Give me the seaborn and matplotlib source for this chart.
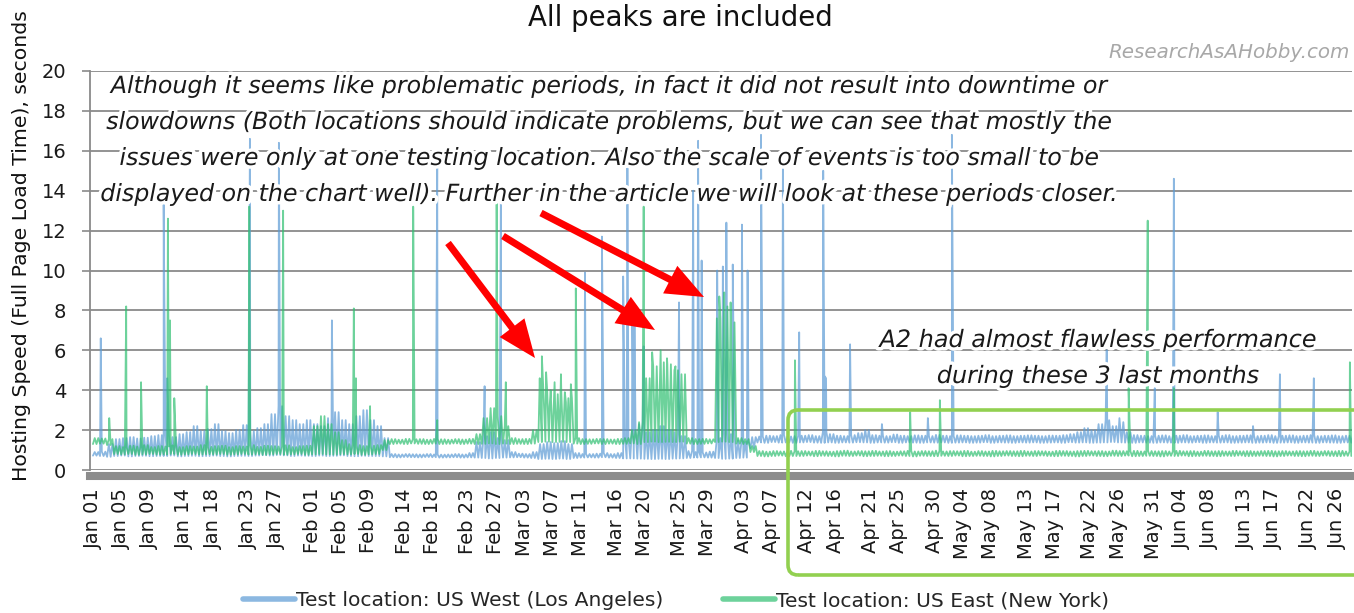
import pandas as pd
import matplotlib
matplotlib.use("Agg")
import matplotlib.pyplot as plt
import matplotlib.patheffects as pe
from matplotlib.patches import FancyArrow, FancyBboxPatch
from matplotlib.lines import Line2D
import seaborn as sns

sns.set_theme(style="white")
plt.rcParams["font.family"] = ["DejaVu Sans"]

W, H = 1354, 613
start = pd.Timestamp("2019-01-01")

tick_labels = [
  "Jan 01", "Jan 05", "Jan 09", "Jan 14", "Jan 18", "Jan 23", "Jan 27",
  "Feb 01", "Feb 05", "Feb 09", "Feb 14", "Feb 18", "Feb 23", "Feb 27",
  "Mar 03", "Mar 07", "Mar 11", "Mar 16", "Mar 20", "Mar 25", "Mar 29",
  "Apr 03", "Apr 07", "Apr 12", "Apr 16", "Apr 21", "Apr 25", "Apr 30",
  "May 04", "May 08", "May 13", "May 17", "May 22", "May 26", "May 31",
  "Jun 04", "Jun 08", "Jun 13", "Jun 17", "Jun 22", "Jun 26",
]

series_names = ["Test location: US West (Los Angeles)", "Test location: US East (New York)"]
series_colors = ["#5b9bd5", "#2fbf71"]

# daily low / high level of each series (day 0 = Jan 01)
west_lo = [
  0.72, 0.70, 0.66, 0.70, 0.72, 0.68, 0.70, 0.71, 0.69, 0.70,
  0.70, 0.72, 0.68, 0.70, 0.71, 0.69, 0.70, 0.72, 0.70, 0.68,
  0.70, 0.71, 0.70, 0.72, 0.74, 0.72, 0.75, 0.73, 0.70, 0.72,
  0.71, 0.70, 0.72, 0.70, 0.71, 0.73, 0.70, 0.69, 0.71, 0.70,
  0.70, 0.68, 0.64, 0.63, 0.65, 0.64, 0.63, 0.65, 0.64, 0.62,
  0.63, 0.64, 0.62, 0.63, 0.62, 0.60, 0.58, 0.60, 0.62, 0.63,
  0.64, 0.62, 0.60, 0.55, 0.56, 0.55, 0.57, 0.55, 0.60, 0.62,
  0.63, 0.62, 0.64, 0.62, 0.60, 0.58, 0.58, 0.57, 0.56, 0.55,
  0.56, 0.55, 0.57, 0.58, 0.60, 0.62, 0.63, 0.62, 0.60, 0.56,
  0.57, 0.60, 0.62, 1.10, 1.38, 1.36, 1.40, 1.37, 1.38, 1.36,
  1.38, 1.40, 1.37, 1.36, 1.38, 1.36, 1.38, 1.37, 1.39, 1.38,
  1.36, 1.38, 1.37, 1.39, 1.36, 1.38, 1.37, 1.36, 1.38, 1.37,
  1.38, 1.36, 1.37, 1.38, 1.36, 1.37, 1.39, 1.36, 1.38, 1.37,
  1.36, 1.38, 1.37, 1.38, 1.36, 1.37, 1.38, 1.36, 1.39, 1.37,
  1.38, 1.36, 1.37, 1.38, 1.40, 1.38, 1.37, 1.36, 1.38, 1.37,
  1.36, 1.38, 1.37, 1.36, 1.38, 1.37, 1.39, 1.36, 1.38, 1.37,
  1.38, 1.36, 1.37, 1.38, 1.36, 1.37, 1.38, 1.36, 1.37, 1.38,
  1.36, 1.38, 1.37, 1.36, 1.38, 1.37, 1.36, 1.38, 1.37,
]
west_hi = [
  0.90, 0.92, 1.30, 1.55, 1.60, 1.65, 1.58, 1.62, 1.70, 1.75,
  1.75, 1.65, 1.80, 1.90, 2.20, 1.95, 2.05, 2.30, 1.95, 1.85,
  2.00, 2.25, 1.95, 2.10, 2.30, 2.80, 3.20, 2.70, 2.50, 2.30,
  2.50, 2.30, 2.20, 2.60, 2.90, 2.50, 2.30, 2.70, 3.00, 2.50,
  2.20, 1.60, 0.80, 0.78, 0.80, 0.79, 0.78, 0.80, 0.78, 0.77,
  0.78, 0.80, 0.78, 0.85, 1.40, 1.70, 1.90, 1.60, 1.50, 0.90,
  0.82, 0.80, 0.90, 1.30, 1.40, 1.35, 1.45, 1.30, 0.85, 0.80,
  0.80, 0.82, 0.85, 0.80, 0.85, 1.60, 2.10, 2.30, 1.90, 2.00,
  2.20, 2.00, 1.90, 1.70, 0.95, 0.90, 0.88, 0.92, 1.60, 1.90,
  1.80, 1.50, 1.40, 1.65, 1.68, 1.72, 1.70, 1.75, 1.68, 1.70,
  1.72, 1.75, 1.70, 1.90, 1.80, 1.72, 1.70, 1.75, 1.85, 2.00,
  1.75, 1.72, 1.70, 1.78, 1.72, 1.70, 1.74, 1.72, 1.70, 1.76,
  1.72, 1.70, 1.74, 1.72, 1.70, 1.72, 1.75, 1.70, 1.72, 1.74,
  1.70, 1.72, 1.74, 1.72, 1.70, 1.73, 1.72, 1.75, 1.80, 1.90,
  2.10, 2.00, 2.30, 2.50, 2.20, 2.40, 1.90, 1.75, 1.72, 1.70,
  1.72, 1.74, 1.70, 1.72, 1.75, 1.70, 1.72, 1.74, 1.70, 1.72,
  1.75, 1.70, 1.72, 1.74, 1.70, 1.72, 1.75, 1.70, 1.72, 1.74,
  1.70, 1.72, 1.75, 1.70, 1.72, 1.74, 1.70, 1.72, 1.75,
]
east_lo = [
  1.30, 1.32, 1.25, 0.80, 0.78, 0.80, 0.76, 0.78, 0.80, 0.77,
  0.78, 0.80, 0.76, 0.78, 0.80, 0.77, 0.79, 0.78, 0.80, 0.76,
  0.78, 0.80, 0.77, 0.79, 0.76, 0.78, 0.80, 0.77, 0.78, 0.80,
  0.76, 0.78, 0.80, 0.78, 0.77, 0.79, 0.78, 0.80, 0.76, 0.78,
  0.80, 1.00, 1.30, 1.32, 1.30, 1.33, 1.31, 1.30, 1.32, 1.30,
  1.31, 1.33, 1.30, 1.32, 1.30, 1.31, 1.33, 1.30, 1.32, 1.30,
  1.31, 1.30, 1.32, 1.40, 1.42, 1.40, 1.41, 1.40, 1.32, 1.30,
  1.31, 1.33, 1.30, 1.32, 1.30, 1.31, 1.33, 1.30, 1.40, 1.42,
  1.40, 1.41, 1.40, 1.42, 1.32, 1.30, 1.31, 1.33, 1.40, 1.42,
  1.40, 1.32, 1.30, 0.90, 0.70, 0.68, 0.70, 0.72, 0.69, 0.70,
  0.70, 0.72, 0.69, 0.71, 0.70, 0.68, 0.71, 0.70, 0.72, 0.69,
  0.70, 0.71, 0.69, 0.70, 0.72, 0.70, 0.68, 0.71, 0.70, 0.69,
  0.71, 0.70, 0.72, 0.69, 0.70, 0.71, 0.70, 0.68, 0.70, 0.72,
  0.70, 0.69, 0.71, 0.70, 0.72, 0.70, 0.69, 0.71, 0.70, 0.68,
  0.70, 0.72, 0.70, 0.69, 0.71, 0.70, 0.72, 0.69, 0.70, 0.71,
  0.70, 0.68, 0.71, 0.70, 0.72, 0.69, 0.70, 0.71, 0.70, 0.69,
  0.71, 0.70, 0.72, 0.69, 0.70, 0.71, 0.70, 0.68, 0.70, 0.72,
  0.70, 0.69, 0.71, 0.70, 0.72, 0.70, 0.69, 0.71, 0.70,
]
east_hi = [
  1.60, 1.58, 1.55, 1.20, 1.15, 1.22, 1.18, 1.25, 1.15, 1.20,
  1.18, 1.24, 1.15, 1.20, 1.18, 1.25, 1.16, 1.20, 1.22, 1.15,
  1.20, 1.18, 1.25, 1.16, 1.22, 1.20, 1.18, 1.24, 1.15, 1.20,
  1.22, 2.20, 2.70, 2.30, 1.90, 1.50, 1.30, 1.25, 1.20, 1.22,
  1.25, 1.50, 1.55, 1.52, 1.56, 1.54, 1.55, 1.52, 1.56, 1.54,
  1.52, 1.55, 1.53, 1.56, 1.80, 2.60, 3.10, 2.70, 2.20, 1.60,
  1.55, 1.56, 2.00, 3.70, 4.00, 3.80, 3.90, 3.60, 1.60, 1.55,
  1.54, 1.56, 1.55, 1.53, 1.56, 1.60, 2.00, 2.40, 4.60, 5.20,
  5.40, 5.30, 5.00, 4.80, 1.60, 1.55, 1.56, 1.54, 7.60, 8.20,
  7.40, 1.60, 1.55, 1.20, 0.95, 0.92, 0.95, 0.93, 0.96, 0.94,
  0.95, 0.93, 0.96, 0.94, 0.92, 0.95, 0.97, 0.93, 0.95, 0.94,
  0.96, 0.93, 0.95, 0.92, 0.94, 0.96, 0.93, 0.95, 0.94, 0.97,
  0.93, 0.95, 0.94, 0.96, 0.92, 0.95, 0.93, 0.96, 0.94, 0.95,
  0.94, 0.96, 0.93, 0.95, 0.94, 0.92, 0.96, 0.95, 0.93, 0.95,
  0.96, 0.94, 0.95, 0.93, 0.97, 0.95, 0.94, 0.96, 0.93, 0.95,
  0.94, 0.95, 0.93, 0.96, 0.94, 0.95, 0.92, 0.96, 0.94, 0.95,
  0.93, 0.96, 0.94, 0.95, 0.93, 0.95, 0.96, 0.94, 0.95, 0.93,
  0.95, 0.94, 0.96, 0.93, 0.95, 0.94, 0.96, 0.93, 0.95,
]

# single peaks (day offset from Jan 01, seconds)
west_spike_day = [1.1, 10.0, 10.5, 22.2, 26.3, 33.8, 48.7, 55.4, 57.7, 69.6,
                  72.0, 75.0, 75.6, 76.3, 76.6, 77.9, 82.9, 84.9, 85.6, 86.1,
                  88.3, 89.1, 89.6, 90.5, 91.8, 92.6, 94.5, 97.6, 99.9, 103.3,
                  103.5, 103.7, 107.1, 111.6, 118.1, 121.5, 143.4, 145.2, 150.2, 152.9,
                  159.1, 164.1, 167.9, 172.7]
west_spike_val = [6.6, 13.3, 4.6, 16.6, 16.4, 7.5, 15.5, 4.2, 13.5, 9.9,
                  11.7, 9.7, 16.0, 7.8, 7.6, 6.2, 8.4, 14.0, 16.5, 10.5,
                  10.0, 10.2, 12.4, 10.3, 12.3, 10.0, 16.8, 16.0, 6.9, 15.0,
                  4.7, 4.6, 6.3, 2.3, 2.6, 16.8, 6.0, 2.6, 4.1, 14.6,
                  2.9, 2.2, 4.8, 4.6]
east_spike_day = [2.3, 4.7, 6.8, 10.6, 10.9, 11.5, 16.1, 22.1, 26.9, 36.9,
                  37.2, 39.2, 45.3, 48.7, 57.1, 58.4, 63.2, 63.5, 64.1, 64.6,
                  65.3, 66.2, 66.9, 67.6, 68.3, 77.9, 79.1, 80.3, 81.2, 82.4,
                  83.2, 88.6, 89.3, 90.2, 99.3, 115.6, 119.8, 146.5, 149.2, 152.9,
                  177.8]
east_spike_val = [2.6, 8.2, 4.4, 12.6, 7.5, 3.6, 4.2, 13.2, 13.0, 8.1,
                  4.6, 3.2, 13.2, 2.5, 14.0, 4.4, 4.6, 5.7, 4.9, 3.2,
                  4.4, 4.8, 3.4, 4.3, 9.1, 13.2, 5.9, 6.0, 5.6, 5.2,
                  4.3, 8.7, 8.9, 8.4, 5.5, 2.9, 3.5, 4.1, 12.5, 4.1,
                  5.4]


def build_series(name, lo, hi, spike_day, spike_val):
  days, vals = [], []
  for d, (a, b) in enumerate(zip(lo, hi)):
    days += [d, d + 0.25, d + 0.5, d + 0.75]
    vals += [a, b, a, b]
  days += spike_day
  vals += spike_val
  df = pd.DataFrame({"day": days, "value": vals}).sort_values("day")
  df["time"] = start + pd.to_timedelta(df["day"], unit="D")
  df["series"] = name
  return df


df = pd.concat([
  build_series(series_names[0], west_lo, west_hi, west_spike_day, west_spike_val),
  build_series(series_names[1], east_lo, east_hi, east_spike_day, east_spike_val),
])

fig = plt.figure(figsize=(W / 100, H / 100), dpi=100)
ax = fig.add_axes([90 / W, 1 - 470 / H, (1352 - 90) / W, (470 - 71) / H])

sns.lineplot(data=df, x="time", y="value", hue="series", hue_order=series_names,
             palette=series_colors, estimator=None, linewidth=1.3, alpha=0.7,
             legend=False, ax=ax)

grid_c = "#8a8a8a"
ax.set_ylim(0, 20)
ax.set_yticks(range(0, 21, 2))
ax.set_xlim(start - pd.Timedelta(days=0.42), start + pd.Timedelta(days=178.1))
tick_pos = pd.to_datetime([f"{s} 2019" for s in tick_labels], format="%b %d %Y")
ax.set_xticks(tick_pos)
ax.set_xticklabels(tick_labels)
ax.set_xlabel("")
ax.set_ylabel("")
ax.yaxis.grid(True, color=grid_c, linewidth=1.3)
ax.xaxis.grid(False)
for s in ["top", "right"]:
  ax.spines[s].set_visible(False)
ax.spines["left"].set_color(grid_c)
ax.spines["left"].set_linewidth(1.3)
ax.spines["bottom"].set_color("#8c8c8c")
ax.spines["bottom"].set_linewidth(5.8)
ax.spines["bottom"].set_position(("outward", 4))
ax.tick_params(axis="y", labelsize=14, length=6, width=1.2, color=grid_c, pad=11, left=True,
               labelcolor="#1a1a1a")
ax.tick_params(axis="x", labelsize=14, length=0, pad=9, labelcolor="#1a1a1a",
               labelrotation=90)
for lab in ax.get_xticklabels():
  lab.set_va("top")
  lab.set_ha("center")


def put(x, y, s, **kw):
  return fig.text(x / 100, (H - y) / 100, s, transform=fig.dpi_scale_trans, **kw)


halo = [pe.withStroke(linewidth=5, foreground="white")]

title = put(680, 18, "All peaks are included", ha="center", va="center", fontsize=16, color="#111111")
mark = put(1350, 52, "ResearchAsAHobby.com", ha="right", va="center", fontsize=12,
           style="italic", color="#a8a8a8")
ylab = put(22, 246, "Hosting Speed (Full Page Load Time), seconds", rotation=90,
           ha="center", va="center", fontsize=12, color="#111111")

note_lines = [
  "Although it seems like problematic periods, in fact it did not result into downtime or",
  "slowdowns (Both locations should indicate problems, but we can see that mostly the",
  "issues were only at one testing location. Also the scale of events is too small to be",
  "displayed on the chart well). Further in the article we will look at these periods closer.",
]
note_y = [86, 122, 158, 194]
notes = [put(608, y, s, ha="center", va="center", fontsize=16, style="italic",
             color="#1a1a1a", path_effects=halo, zorder=5)
         for s, y in zip(note_lines, note_y)]

a2_lines = ["A2 had almost flawless performance", "during these 3 last months"]
a2 = [put(1098, y, s, ha="center", va="center", fontsize=16, style="italic",
          color="#1a1a1a", path_effects=halo, zorder=5)
      for s, y in zip(a2_lines, [340, 376])]

handles = [Line2D([], [], color=c, lw=4, alpha=0.7) for c in series_colors]
fig.legend(handles, series_names, loc="center", bbox_to_anchor=(676 / W, 1 - 601 / H),
           ncol=2, frameon=False, fontsize=14.6, handlelength=2.6, handletextpad=0.05,
           columnspacing=2.9)

fig.canvas.draw()
renderer = fig.canvas.get_renderer()


def fit(t, px, vertical=False):
  bb = t.get_window_extent(renderer)
  cur = bb.height if vertical else bb.width
  t.set_fontsize(t.get_fontsize() * px / cur)


fit(title, 306)
fit(mark, 240)
fit(ylab, 468, vertical=True)
fit(notes[3], 1020)
for t in notes[:3]:
  t.set_fontsize(notes[3].get_fontsize())
fit(a2[0], 438)
a2[1].set_fontsize(a2[0].get_fontsize())

# red arrows (tail -> tip, image pixels)
arrows = [((448, 243), (535, 358)), ((503, 236), (655, 330)), ((541, 213), (704, 297))]
for (x0, y0), (x1, y1) in arrows:
  fig.add_artist(FancyArrow(x0 / 100, (H - y0) / 100, (x1 - x0) / 100, (y0 - y1) / 100,
                            width=0.07, head_width=0.31, head_length=0.38,
                            length_includes_head=True, color="#ff0000", lw=0,
                            transform=fig.dpi_scale_trans, zorder=6))

# green frame around the last months
fig.add_artist(FancyBboxPatch((788 / 100, (H - 575) / 100), (1420 - 788) / 100, (575 - 410) / 100,
                              boxstyle="round,pad=0,rounding_size=0.1", fill=False,
                              ec="#92d050", lw=2.6, transform=fig.dpi_scale_trans, zorder=7))

fig.savefig("out.png", dpi=100)
